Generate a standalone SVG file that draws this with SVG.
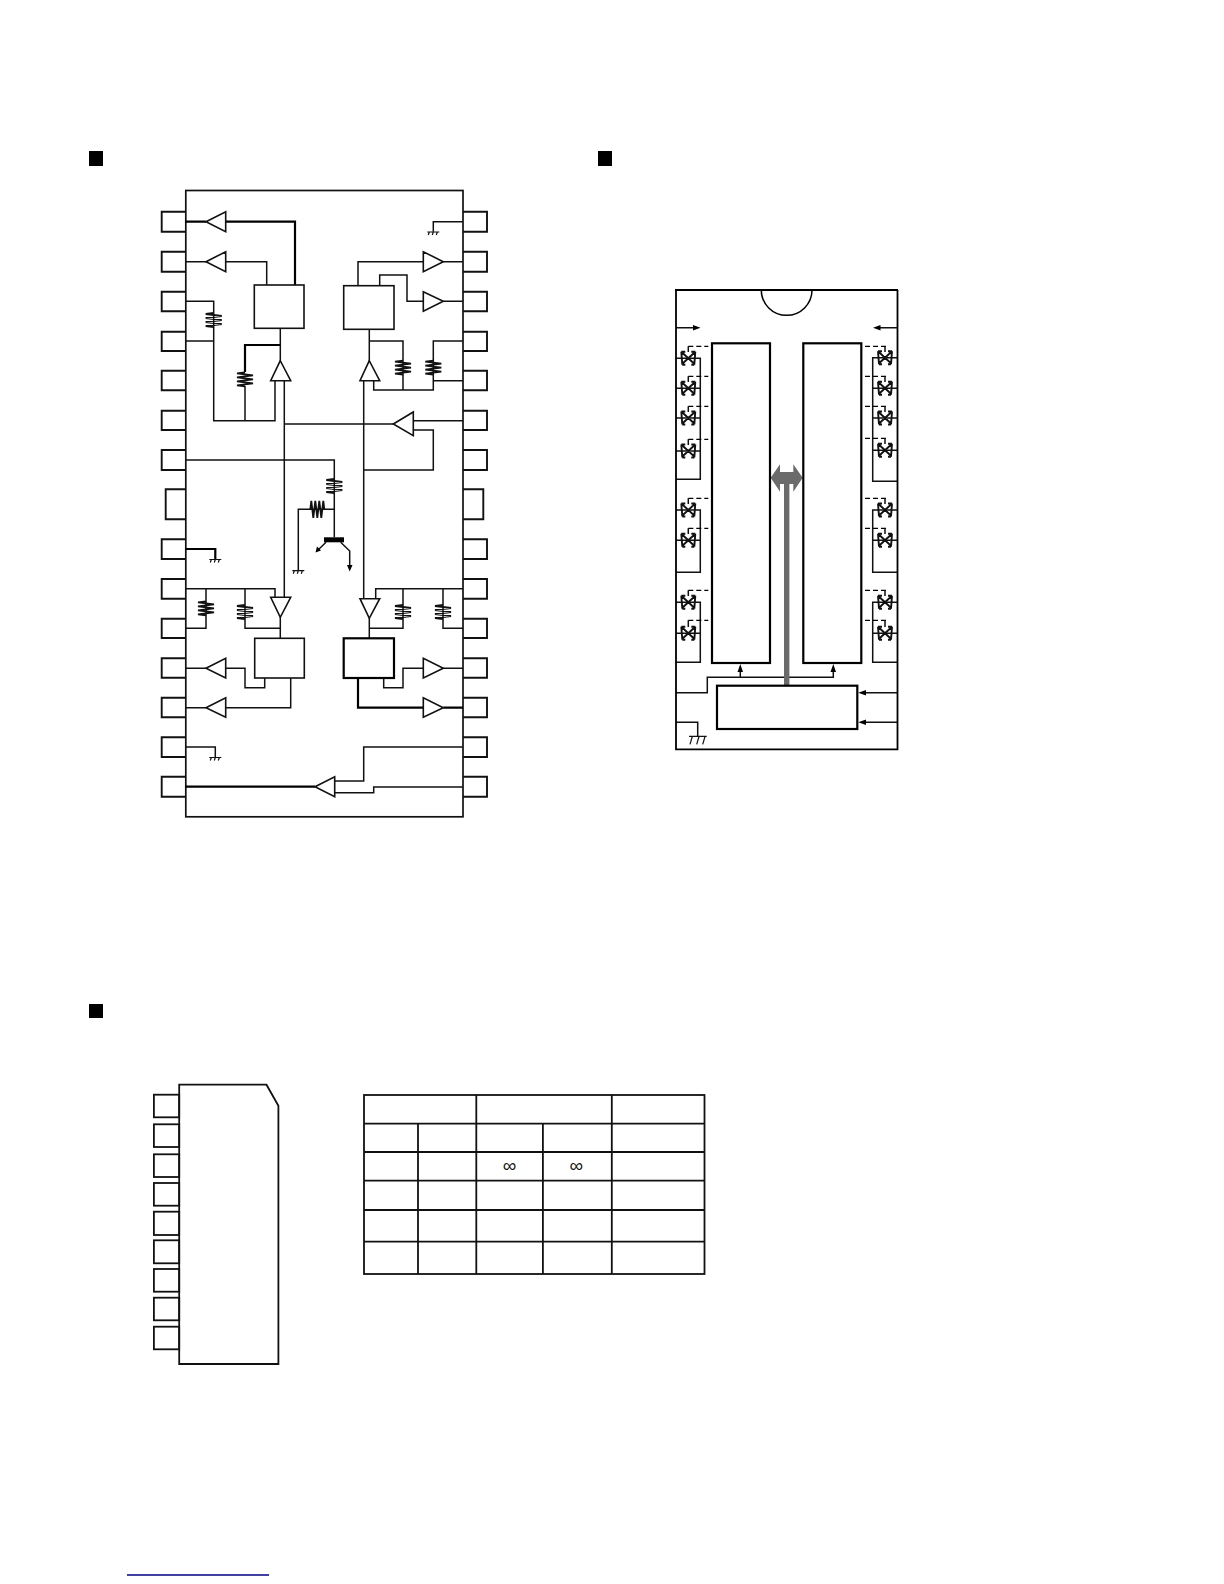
<svg xmlns="http://www.w3.org/2000/svg" width="1224" height="1584" viewBox="0 0 1224 1584">
<style>
.w{fill:none;stroke:#111;stroke-width:1.5}
.t{fill:none;stroke:#000;stroke-width:2.2}
.b{fill:#fff;stroke:#111;stroke-width:1.6}
.B{fill:#fff;stroke:#000;stroke-width:2.2}
.a{fill:#fff;stroke:#111;stroke-width:1.6}
.d{fill:none;stroke:#000;stroke-width:1.2;stroke-dasharray:5 3}
.r{fill:none;stroke:#111;stroke-width:1.8}
.g{fill:none;stroke:#111;stroke-width:1.2}
.k{fill:#000}
.sw{fill:none;stroke:#111;stroke-width:1.9}
.p{fill:none;stroke:#111;stroke-width:1.9}
</style>
<defs>
<path id="rv" class="r" d="M0-7 L-8-6 L8-4 L-8-2 L8 0 L-8 2 L8 4 L-8 6 L0 7"/>
<path id="rh" class="r" d="M-7 0 L-6-8.5 L-4 8.5 L-2-8.5 L0 8.5 L2-8.5 L4 8.5 L6-8.5 L7 0"/>
<path id="gnd" class="g" d="M-6 0H6M-4 0L-5 3M0 0L-1 3M4 0L3 3"/>
<g id="sw"><path class="sw" d="M-6.5-6L6.5 6M6.5-6L-6.5 6M-7-6.5L-6 6.5M7-6.5L6 6.5M-7-6.5H-3M7-6.5H3M-6 6.5H-3M6 6.5H3"/></g>
</defs>
<g id="sec1"><rect class="k" x="89" y="151" width="14" height="15"/></g>
<g id="sec2"><rect class="k" x="598" y="151" width="14" height="15"/></g>
<g id="sec3"><rect class="k" x="89" y="1004" width="14" height="14"/></g>

<g id="ic1">
<rect id="ic1-body" x="185.8" y="190.5" width="277.2" height="626.3" fill="#fff" stroke="#111" stroke-width="1.7"/>
<g id="ic1-pins-left" class="p">
<path d="M185.3 211.7H161.7V231.7H185.3"/><path d="M185.3 251.7H161.7V271.7H185.3"/><path d="M185.3 291.7H161.7V311.3H185.3"/><path d="M185.3 331.7H161.7V351H185.3"/><path d="M185.3 370.7H161.7V390.3H185.3"/><path d="M185.3 410.7H161.7V430H185.3"/><path d="M185.3 450H161.7V470H185.3"/><path d="M185.3 489.3H165.7V519.3H185.3"/><path d="M185.3 539.3H161.7V559H185.3"/><path d="M185.3 579H161.7V598.7H185.3"/><path d="M185.3 618.7H161.7V638H185.3"/><path d="M185.3 658.3H161.7V677.7H185.3"/><path d="M185.3 697.7H161.7V717.3H185.3"/><path d="M185.3 737.3H161.7V757H185.3"/><path d="M185.3 776.7H161.7V796.7H185.3"/>
</g>
<g id="ic1-pins-right" class="p">
<path d="M463 211.7H487V231.7H463"/><path d="M463 251.7H487V271.7H463"/><path d="M463 291.7H487V311.3H463"/><path d="M463 331.7H487V351H463"/><path d="M463 370.7H487V390.3H463"/><path d="M463 410.7H487V430H463"/><path d="M463 450H487V470H463"/><path d="M463 489.3H483.3V519.3H463"/><path d="M463 539.3H487V559H463"/><path d="M463 579H487V598.7H463"/><path d="M463 618.7H487V638H463"/><path d="M463 658.3H487V677.7H463"/><path d="M463 697.7H487V717.3H463"/><path d="M463 737.3H487V757H463"/><path d="M463 776.7H487V796.7H463"/>
</g>
</g>

<g id="connectors">
<g id="ic1-wires">
<path class="t" d="M185.3 221.7H206M225.7 221.7H295V285"/>
<path class="w" d="M185.3 261.7H206M225.7 261.7H266.7V285"/>
<path class="w" d="M280.3 328.3V360.7"/>
<path class="t" d="M280.3 345H245V372"/>
<path class="w" d="M245 386V420.7M275 380.7V420.7H213.7V301.3H185.3M185.3 341H213.7"/>
<path class="w" d="M284.3 380.7V597.3M284.3 424H393.3M413.3 420.7H463M413.3 430H433.3V470H363.7"/>
<path class="w" d="M363.7 380.7V598.7"/>
<path class="w" d="M369.3 329.3V360.7M369.3 341H403V390M373.7 380.7V390H433.3V341H463M433.3 380.7H463"/>
<path class="w" d="M358 285.7V261.7H423.3M443.3 261.7H463M379.7 285.7V275H407V301.3H423.3M443.3 301.3H463"/>
<path class="w" d="M463 221.7H433.3V231.7"/>
<path class="w" d="M185.3 460H334.3V537.3M334.3 509.3H298.3V570.7"/>
<path class="w" d="M326 542.3L317 551M340.7 542.3L349.7 551V568"/>
<path class="t" d="M185.3 549H215.3V559"/>
<path class="w" d="M185.3 588.7H275V597.3M206 588.7V628.3H185.3M245 588.7V628.3H280.3M280.3 617.3V638.3"/>
<path class="w" d="M369.3 618.3V638.3M369.3 628.3H403V588.7M375.7 598.7V588.7H463M443 588.7V628.3H463"/>
<path class="w" d="M185.3 668.3H206M225.7 668.3H245V687.7H264.7V678M185.3 707.7H206M225.7 707.7H290.7V678"/>
<path class="t" d="M358 678V707.7H423.3M443.3 707.7H463"/>
<path class="w" d="M383.7 678V687.7H403V668.3H423.3M443.3 668.3H463"/>
<path class="w" d="M185.3 747H215.3V757"/>
<path class="t" d="M185.3 786.7H315"/>
<path class="w" d="M334.7 781H363.7V747H463M334.7 792.7H373.7V787H463"/>
</g>
<g id="ic2-wires">
<path class="w" d="M676 327.7H695M897.5 327.7H878"/>
<path class="w" d="M676 358.3H700.3V479.3H676M676 388.3H700.3M676 418H700.3M676 451H700.3M676 510H700.3V572.3H676M676 540.3H700.3M676 602.3H700.3V662.3H676M676 633.3H700.3"/>
<path class="w" d="M897.5 357.7H872.7V481.3H897.5M897.5 388.3H872.7M897.5 418H872.7M897.5 450.3H872.7M897.5 510H872.7V572.3H897.5M897.5 540.3H872.7M897.5 602.3H872.7V662.3H897.5M897.5 633.3H872.7"/>
<path class="d" d="M688.3 346.3H708.3M688.3 376.3H708.3M688.3 406.3H708.3M688.3 439.3H708.3M688.3 498.3H708.3M688.3 528.3H708.3M688.3 590.3H708.3M688.3 620.3H708.3"/>
<path class="d" d="M865 346.3H886M865 376.3H886M865 406.3H886M865 438.3H886M865 498.3H886M865 528.3H886M865 590.3H886M865 620.3H886"/>
<path class="w" d="M688.3 346.3V352M688.3 376.3V382M688.3 406.3V412M688.3 439.3V445M688.3 498.3V504M688.3 528.3V534M688.3 590.3V596M688.3 620.3V627M885 346.3V352M885 376.3V382M885 406.3V412M885 438.3V444M885 498.3V504M885 528.3V534M885 590.3V596M885 620.3V627"/>
<path class="w" d="M676 692.7H707.3V677.3H833.3V670M740.3 677.3V670M897.5 692.7H865M897.5 722.3H865M676 722.3H697.7V736.3"/>
<path d="M784 484H789.4V685.7H784Z" fill="#6b6b6b"/>
<path id="bus-arrow" fill="#6b6b6b" d="M770.7 477.7L780 464.3V472H793.3V464.3L802.7 477.7L793.3 491.7V484H780V491.7Z"/>
</g>
</g>

<g id="ic1-parts">
<use href="#rv" x="213.7" y="320"/>
<use href="#rv" x="245" y="379.3"/>
<use href="#rv" x="403" y="367.7"/>
<use href="#rv" x="433.3" y="367.7"/>
<use href="#rv" x="334.3" y="486"/>
<use href="#rh" x="317.3" y="509.3"/>
<use href="#rv" x="206" y="608.3"/>
<use href="#rv" x="245" y="612"/>
<use href="#rv" x="403" y="612"/>
<use href="#rv" x="443" y="612"/>
<use href="#gnd" x="433.3" y="232"/>
<use href="#gnd" x="215.3" y="559.5"/>
<use href="#gnd" x="215.3" y="757.5"/>
<use href="#gnd" x="298.3" y="570.7"/>
<g id="q1"><rect class="k" x="324" y="537.3" width="20" height="5"/><path class="k" d="M315.5 552.5L317 546.5L321 550.5ZM349.7 571.5L347 565H352.5Z"/></g>
<polygon id="a1" class="a" points="206,221.7 225.7,211.7 225.7,231.7"/>
<polygon id="a2" class="a" points="206,261.7 225.7,251.7 225.7,271.7"/>
<polygon id="a3" class="a" points="423.3,251.7 423.3,271.7 443.3,261.7"/>
<polygon id="a4" class="a" points="423.3,291.7 423.3,311.3 443.3,301.3"/>
<polygon id="a5" class="a" points="280.3,360.7 270.7,380.7 290.7,380.7"/>
<polygon id="a6" class="a" points="369.3,360.7 360,380.7 379.7,380.7"/>
<polygon id="a7" class="a" points="393.3,424 413.3,412 413.3,435.7"/>
<polygon id="a8" class="a" points="270.7,597.3 290.7,597.3 280.3,617.3"/>
<polygon id="a9" class="a" points="360,598.7 379.7,598.7 369.3,618.3"/>
<polygon id="a10" class="a" points="206,668.3 225.7,658.3 225.7,678"/>
<polygon id="a11" class="a" points="206,707.7 225.7,697.7 225.7,717.3"/>
<polygon id="a12" class="a" points="423.3,658.3 423.3,678 443.3,668.3"/>
<polygon id="a13" class="a" points="423.3,697.7 423.3,717.3 443.3,707.7"/>
<polygon id="a14" class="a" points="315,786.7 334.7,776.7 334.7,796.7"/>
<rect id="box1" class="b" x="254.3" y="285" width="49.7" height="43.3"/>
<rect id="box2" class="b" x="343.7" y="285.7" width="50.3" height="43.6"/>
<rect id="box3" class="b" x="254.7" y="638.3" width="49.6" height="39.7"/>
<rect id="box4" class="B" x="343.7" y="638.3" width="50.3" height="39.7"/>
</g>

<g id="ic2">
<path id="ic2-body" fill="none" stroke="#000" stroke-width="1.8" d="M676 290V749.3H897.5V290"/>
<path id="ic2-top" fill="none" stroke="#000" stroke-width="2.2" d="M675 290H898"/>
<path id="ic2-notch" fill="none" stroke="#000" stroke-width="1.5" d="M761.3 290A25.3 25.3 0 0 0 812 290"/>
<rect id="mem-left" class="B" x="712" y="343.3" width="58" height="319.7"/>
<rect id="mem-right" class="B" x="803.3" y="343.3" width="58" height="319.7"/>
<rect id="ctrl" class="B" x="717" y="685.7" width="140.3" height="43.3"/>
<g id="ic2-switches">
<use href="#sw" x="688.3" y="358.3"/><use href="#sw" x="688.3" y="388.3"/><use href="#sw" x="688.3" y="418"/><use href="#sw" x="688.3" y="451"/><use href="#sw" x="688.3" y="510"/><use href="#sw" x="688.3" y="540.3"/><use href="#sw" x="688.3" y="602.3"/><use href="#sw" x="688.3" y="633.3"/>
<use href="#sw" x="885" y="357.7"/><use href="#sw" x="885" y="388.3"/><use href="#sw" x="885" y="418"/><use href="#sw" x="885" y="450.3"/><use href="#sw" x="885" y="510"/><use href="#sw" x="885" y="540.3"/><use href="#sw" x="885" y="602.3"/><use href="#sw" x="885" y="633.3"/>
</g>
<g id="ic2-heads" class="k">
<path d="M700.5 327.7L693 325V330.4ZM873 327.7L880.5 325V330.4ZM740.3 664L737.5 672H743ZM833.3 664L830.5 672H836ZM858.3 692.7L866 690V695.4ZM858.3 722.3L866 719.6V725Z"/>
</g>
<path id="ic2-gnd" fill="none" stroke="#111" stroke-width="1.2" d="M689 736.3H706.7M692.3 736.5L690 744.3M699 736.5L696.7 744.3M705 736.5L702.7 744.3"/>
</g>

<g id="ic3">
<path id="ic3-body" fill="#fff" stroke="#111" stroke-width="1.8" d="M179.2 1084.7H266.5L278.4 1105.7V1364H179.2Z"/>
<g id="ic3-pins" fill="none" stroke="#111" stroke-width="1.8">
<rect x="153.9" y="1094.7" width="25.3" height="22.6"/><rect x="153.9" y="1124.3" width="25.3" height="22.7"/><rect x="153.9" y="1154.3" width="25.3" height="22.7"/><rect x="153.9" y="1183" width="25.3" height="22.7"/><rect x="153.9" y="1211.7" width="25.3" height="23.3"/><rect x="153.9" y="1240.3" width="25.3" height="23"/><rect x="153.9" y="1269" width="25.3" height="22.7"/><rect x="153.9" y="1297.7" width="25.3" height="22.6"/><rect x="153.9" y="1326.7" width="25.3" height="22.6"/>
</g>
</g>

<g id="table" fill="none" stroke="#111" stroke-width="1.8">
<rect x="364" y="1095" width="340.5" height="179"/>
<path d="M364 1123.7H704.5M364 1152H704.5M364 1180.7H704.5M364 1210H704.5M364 1241.7H704.5"/>
<path d="M476.3 1095V1274M611.8 1095V1274M418 1123.7V1274M542.9 1123.7V1274"/>
</g>
<g id="table-text" font-family="'Liberation Sans',Arial,sans-serif" font-size="19" fill="#111" text-anchor="middle">
<text x="509.4" y="1172">∞</text>
<text x="576.3" y="1172">∞</text>
</g>
<path id="footer-rule" d="M127 1575H269" stroke="#000080" stroke-width="1.3" fill="none"/>
</svg>
